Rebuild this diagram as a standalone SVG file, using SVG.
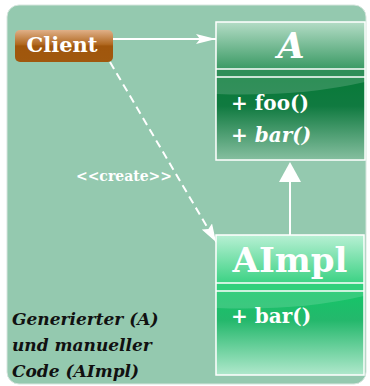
<svg xmlns="http://www.w3.org/2000/svg" width="370" height="386" viewBox="0 0 370 386">
<defs>
<linearGradient id="gAH" x1="0" y1="0" x2="0" y2="1"><stop offset="0" stop-color="#b4dcc6"/><stop offset="1" stop-color="#3a9a64"/></linearGradient>
<linearGradient id="gAM" x1="0" y1="0" x2="0" y2="1"><stop offset="0" stop-color="#077a38"/><stop offset="0.35" stop-color="#107a40"/><stop offset="1" stop-color="#86bfa0"/></linearGradient>
<linearGradient id="gBH" x1="0" y1="0" x2="0" y2="1"><stop offset="0" stop-color="#b8f0d4"/><stop offset="1" stop-color="#3cd284"/></linearGradient>
<linearGradient id="gBM" x1="0" y1="0" x2="0" y2="1"><stop offset="0" stop-color="#14c668"/><stop offset="0.35" stop-color="#24b86c"/><stop offset="1" stop-color="#b0e8cc"/></linearGradient>
<linearGradient id="gC" x1="0" y1="0" x2="0" y2="1"><stop offset="0" stop-color="#e0b088"/><stop offset="0.45" stop-color="#b06820"/><stop offset="0.5" stop-color="#a0560c"/><stop offset="1" stop-color="#a0580e"/></linearGradient>
<marker id="open" viewBox="0 0 20 12" refX="20" refY="6" markerWidth="20" markerHeight="12" markerUnits="userSpaceOnUse" orient="auto"><path d="M0,1 L20,6 L0,11 L4,6 Z" fill="#ffffff"/></marker>
<marker id="dash" viewBox="0 0 18 12" refX="18" refY="6" markerWidth="18" markerHeight="12" markerUnits="userSpaceOnUse" orient="auto"><path d="M0,0 L18,6 L0,12 L3,6 Z" fill="#ffffff"/></marker>
</defs>
<style>
.bg{fill:#94c9af}
.box{fill:none;stroke:#ffffff;stroke-width:1.5}
.sep{stroke:#ffffff;stroke-width:1.5}
.w{fill:#ffffff;font-weight:bold}
.line{stroke:#ffffff;stroke-width:2;fill:none}
.note{fill:#111111;font-weight:bold;font-style:italic;font-size:17px}
</style>
<rect x="0" y="0" width="370" height="386" fill="#ffffff"/>
<rect class="bg" x="7" y="5" width="359" height="379" rx="12" stroke="#d6e6de" stroke-width="1"/>
<g id="connectors">
<line class="line" x1="113" y1="39" x2="216" y2="39" marker-end="url(#open)"/>
<line class="line" x1="110" y1="62" x2="216" y2="242" stroke-dasharray="8,5" marker-end="url(#dash)"/>
<line class="line" x1="290" y1="180" x2="290" y2="235"/>
<path d="M290,162 L301,182 L279,182 Z" fill="#ffffff"/>
<text class="w" font-family="DejaVu Serif, serif" x="124" y="181" font-size="14" text-anchor="middle">&lt;&lt;create&gt;&gt;</text>
</g>
<g id="Client">
<rect x="15" y="30" width="98" height="32" rx="5" fill="url(#gC)"/>
<text class="w" font-family="DejaVu Serif, serif" x="62" y="52" font-size="21" text-anchor="middle">Client</text>
</g>
<g id="A">
<rect x="216" y="22" width="149" height="47" fill="url(#gAH)"/>
<rect x="216" y="69" width="149" height="8" fill="#2e8e58"/>
<rect x="216" y="77" width="149" height="83" fill="url(#gAM)"/>
<path d="M216,77 H365 V82 Q300,97 216,94 Z" fill="#ffffff" opacity="0.16"/>
<rect class="box" x="216" y="22" width="149" height="138"/>
<line class="sep" x1="216" y1="69" x2="365" y2="69"/>
<line class="sep" x1="216" y1="77" x2="365" y2="77"/>
<text class="w" font-family="DejaVu Serif, serif" x="291" y="58" font-size="35" font-style="italic" text-anchor="middle">A</text>
<text class="w" font-family="DejaVu Serif, serif" x="231" y="110" font-size="20">+ foo()</text>
<text class="w" font-family="DejaVu Serif, serif" x="231" y="142" font-size="20">+ <tspan font-style="italic">bar()</tspan></text>
</g>
<g id="AImpl">
<rect x="216" y="235" width="148" height="48" fill="url(#gBH)"/>
<rect x="216" y="283" width="148" height="8" fill="#30d07c"/>
<rect x="216" y="291" width="148" height="84" fill="url(#gBM)"/>
<path d="M216,291 H364 V296 Q300,311 216,308 Z" fill="#ffffff" opacity="0.14"/>
<rect class="box" x="216" y="235" width="148" height="140"/>
<line class="sep" x1="216" y1="283" x2="364" y2="283"/>
<line class="sep" x1="216" y1="291" x2="364" y2="291"/>
<text class="w" font-family="DejaVu Serif, serif" x="290" y="272" font-size="34" text-anchor="middle">AImpl</text>
<text class="w" font-family="DejaVu Serif, serif" x="231" y="323" font-size="20">+ bar()</text>
</g>
<g id="note">
<text class="note" font-family="DejaVu Serif, serif" x="12" y="325">Generierter (A)</text>
<text class="note" font-family="DejaVu Serif, serif" x="12" y="351">und manueller</text>
<text class="note" font-family="DejaVu Serif, serif" x="12" y="377">Code (AImpl)</text>
</g>
</svg>
